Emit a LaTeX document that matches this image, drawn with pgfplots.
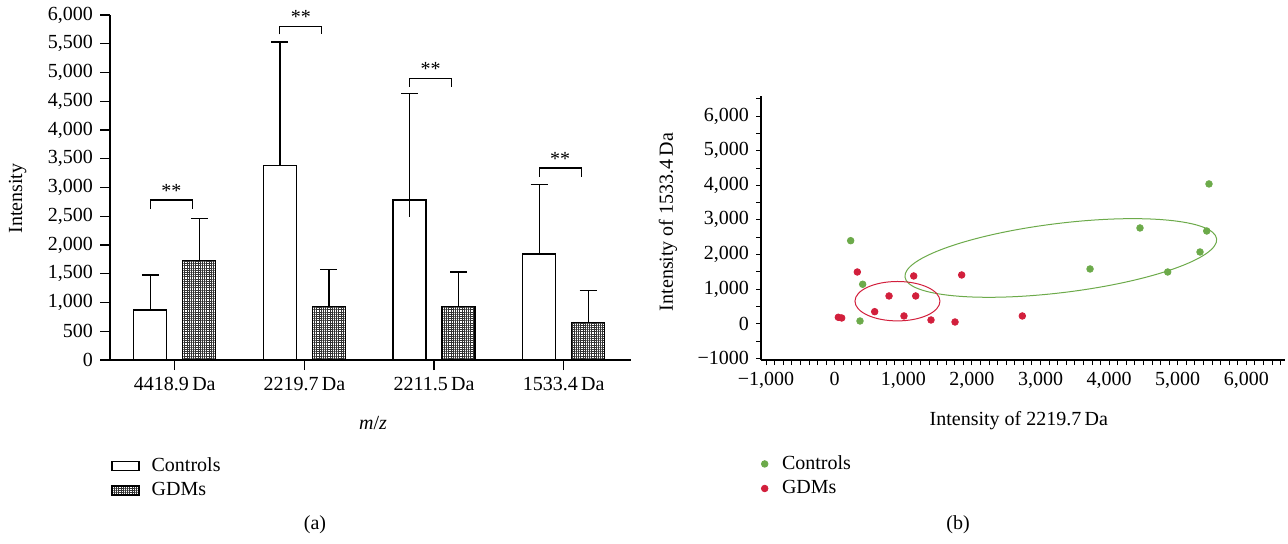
\documentclass[border=0pt]{standalone}
\usepackage{fontspec}
\setmainfont{Liberation Serif}
\usepackage{pgfplots}
\pgfplotsset{compat=1.18}
\usetikzlibrary{patterns.meta}
\definecolor{ctrlgreen}{RGB}{108,170,74}
\definecolor{gdmred}{RGB}{210,31,60}
\pgfplotsset{
  every axis/.append style={font=\fontsize{10}{12}\selectfont},
  /pgf/number format/assume math mode=true,
  bar legend box/.style={legend image code/.code={\draw[##1,/tikz/.cd,line width=0.6pt] (0pt,-2.25pt) rectangle (13.5pt,2.25pt);}},
  dot legend/.style={legend image code/.code={\draw[##1] plot coordinates {(1.7pt,0pt)};}},
  sem bars/.style={error bars/.cd, y dir=plus, y explicit,
    error bar style={black, line width=0.6pt},
    error mark options={black, line width=0.6pt, mark size=4.25pt, rotate=90}},
}
\begin{document}
\begin{tikzpicture}
\useasboundingbox (0,0) rectangle (644pt,-271.5pt);
% (a) bar chart
\begin{axis}[
  scale only axis, width=260.5pt, height=172.5pt,
  at={(55pt,-180pt)}, anchor=south west,
  axis lines=left, axis line style={-, line width=0.55pt},
  tick style={black, line width=0.55pt}, tick align=outside, major tick length=5pt,
  xmin=-0.5, xmax=3.52, ymin=0, ymax=6000,
  xtick={0,1,2,3}, xticklabels={4418.9\,Da,2219.7\,Da,2211.5\,Da,1533.4\,Da},
  ytick={0,500,...,6000}, scaled y ticks=false,
  yticklabel style={/pgf/number format/.cd, 1000 sep={,}},
  xlabel={\textit{m}/\textit{z}}, ylabel={Intensity},
  xlabel style={at={(axis description cs:0.505,-0.183)}, anchor=center},
  ylabel style={at={(axis description cs:-0.177,0.468)}, anchor=center},
  legend style={at={(axis description cs:0.002,-0.27)}, anchor=north west,
    draw=none, fill=none, inner sep=0pt, row sep=0pt,
    /tikz/every odd column/.append style={column sep=4pt}},
  legend cell align=left,
  clip=false,
]
\addplot[ybar, bar width=0.255, bar shift=0pt, draw=black, fill=white, line width=0.6pt,
  bar legend box, sem bars]
  table[x=x, y=y, y error plus=e] {
  x y e
  -0.189 870 608
  0.811 3380 2150
  1.811 2783 1849
  2.811 1843 1206
  };
\addlegendentry{Controls}
\addplot[ybar, bar width=0.255, bar shift=0pt, draw=black, line width=0.6pt,
  pattern={Hatch[distance=1.1pt, angle=0, line width=0.33pt]}, pattern color=black!80,
  bar legend box, sem bars]
  table[x=x, y=y, y error plus=e] {
  x y e
  0.189 1733 731
  1.189 934 636
  2.189 934 596
  3.189 649 557
  };
\addlegendentry{GDMs}
\addplot[draw=none, forget plot,
  error bars/.cd, y dir=minus, y explicit, error mark=none,
  error bar style={draw=black, line width=0.6pt}]
  coordinates {(1.811,2783) -= (0,296)};
% significance brackets
\draw[line width=0.55pt] (axis cs:-0.189,2626) -- (axis cs:-0.189,2783) -- (axis cs:0.135,2783) -- (axis cs:0.135,2626);
\node[anchor=base, inner sep=0pt] at (axis cs:-0.027,2835) {**};
\draw[line width=0.55pt] (axis cs:0.811,5664) -- (axis cs:0.811,5808) -- (axis cs:1.135,5808) -- (axis cs:1.135,5664);
\node[anchor=base, inner sep=0pt] at (axis cs:0.973,5860) {**};
\draw[line width=0.55pt] (axis cs:1.811,4753) -- (axis cs:1.811,4896) -- (axis cs:2.135,4896) -- (axis cs:2.135,4753);
\node[anchor=base, inner sep=0pt] at (axis cs:1.973,4948) {**};
\draw[line width=0.55pt] (axis cs:2.811,3188) -- (axis cs:2.811,3339) -- (axis cs:3.135,3339) -- (axis cs:3.135,3188);
\node[anchor=base, inner sep=0pt] at (axis cs:2.973,3391) {**};
\end{axis}
% (b) scatter plot
\begin{axis}[
  scale only axis, width=262pt, height=132pt,
  at={(380.5pt,-180pt)}, anchor=south west,
  axis lines=left, axis line style={-, line width=0.55pt},
  tick style={black, line width=0.45pt}, tick align=outside,
  major tick length=2.5pt, minor tick length=2.5pt,
  xmin=-1074, xmax=6564, ymin=-1050, ymax=6580,
  xtick={-1000,0,...,6000}, minor xtick={-1000,-875,...,6500},
  xticklabels={{−1,000},0,{1,000},{2,000},{3,000},{4,000},{5,000},{6,000}},
  ytick={-1000,0,...,6000}, minor ytick={-500,500,...,6500},
  yticklabels={−1000,0,{1,000},{2,000},{3,000},{4,000},{5,000},{6,000}},
  xlabel={Intensity of 2219.7\,Da}, ylabel={Intensity of 1533.4\,Da},
  xlabel style={at={(axis description cs:0.492,-0.23)}, anchor=center},
  ylabel style={at={(axis description cs:-0.1775,0.523)}, anchor=center},
  legend style={at={(axis description cs:0,-0.345)}, anchor=north west,
    draw=none, fill=none, inner sep=0pt, row sep=0pt,
    /tikz/every odd column/.append style={column sep=5pt}},
  legend cell align=left,
  clip=false,
]
\addplot[only marks, mark=*, mark size=1.65pt, color=ctrlgreen, dot legend] coordinates {
  (233,2399) (408,1139) (369,78) (5456,4038) (4450,2766)
  (5423,2679) (5325,2072) (4854,1494) (3722,1581)
};
\addlegendentry{Controls}
\addplot[only marks, mark=*, mark size=1.65pt, color=gdmred, dot legend] coordinates {
  (53,185) (102,165) (330,1494) (583,347) (792,801) (1010,223)
  (1152,1379) (1181,801) (1404,107) (1754,49) (1851,1408) (2735,223)
};
\addlegendentry{GDMs}
\draw[ctrlgreen, line width=0.5pt, rotate around={7:(axis cs:3296,1899)}] (axis cs:3296,1899) ellipse [x radius=78.5pt, y radius=17.3pt];
\draw[gdmred, line width=0.5pt] (axis cs:915,650) ellipse [x radius=21.25pt, y radius=9.85pt];
\end{axis}
\node[font=\fontsize{10}{12}\selectfont] at (157.5pt,-262.5pt) {(a)};
\node[font=\fontsize{10}{12}\selectfont] at (479pt,-262.5pt) {(b)};
\end{tikzpicture}
\end{document}
